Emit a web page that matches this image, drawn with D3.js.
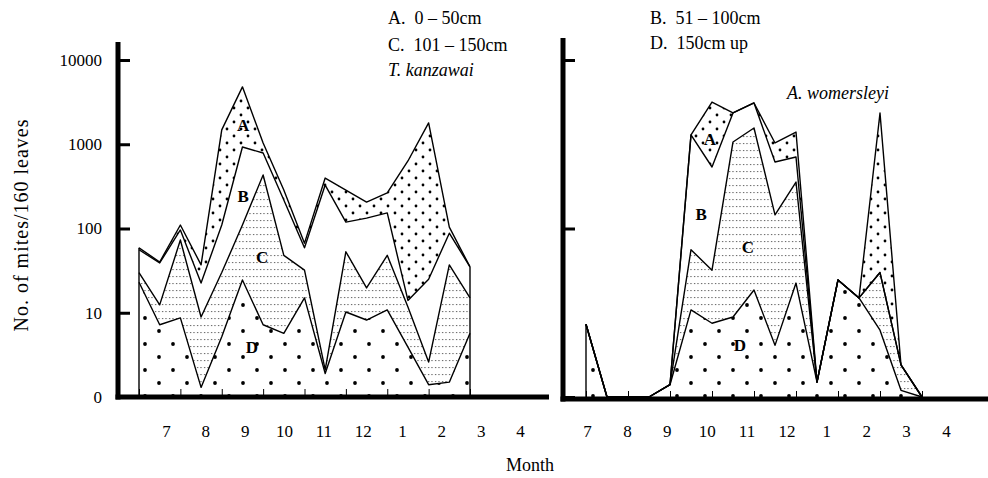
<!DOCTYPE html>
<html>
<head>
<meta charset="utf-8">
<script src="https://cdn.jsdelivr.net/npm/d3@7"></script>
<style>
  body { margin: 0; background: #fff; }
  svg { display: block; }
  svg text { font-family: "Liberation Serif", "Times New Roman", serif; fill: #000; }
</style>
</head>
<body>
<svg id="chart" width="988" height="478"></svg>
<script>
// month tick labels (July .. April)
const months = ["7", "8", "9", "10", "11", "12", "1", "2", "3", "4"];
const yTicks = [1, 10, 100, 1000, 10000];

// T. kanzawai: upper edge of each zone, one value per half-month sample (0 plotted as 1)
const tkA = [59, 40, 110, 37, 1480, 4800, 1035, 286, 67, 397, 286, 206, 264, 633, 1790, 104, 35];
const tkB = [56, 39, 96, 22.5, 110, 928, 787, 218, 59, 328, 119, 133, 153, 14, 25, 88, 35];
const tkC = [30, 12.4, 73, 8.9, 30, 110, 432, 48, 32, 2.1, 53, 19.7, 48, 11.7, 2.6, 37, 15];
const tkD = [23, 7.2, 8.7, 1.3, 5.2, 24.5, 7.2, 5.7, 15, 1.9, 10.2, 8.2, 10.8, 3.9, 1.4, 1.5, 5.7];

// A. womersleyi
const awA = [7.3, 1, 1, 1, 1.4, 1290, 3170, 2350, 3090, 1035, 1397, 1.5, 24.5, 15, 2350, 2.4, 1];
const awB = [7.3, 1, 1, 1, 1.4, 1290, 537, 2350, 3090, 615, 706, 1.5, 24.5, 15, 30, 2.4, 1];
const awC = [7.3, 1, 1, 1, 1.4, 56, 32, 1064, 1560, 145, 356, 1.5, 24.5, 15, 30, 2.4, 1];
const awD = [7.3, 1, 1, 1, 1.4, 10.8, 7.5, 8.9, 18.6, 4.1, 22.5, 1.5, 24.5, 15, 6.2, 1.2, 1];

const svg = d3.select("#chart");
const serif = "Liberation Serif, Times New Roman, serif";

// fill patterns
const defs = svg.append("defs");
const pD = defs.append("pattern").attr("id", "dotsD").attr("patternUnits", "userSpaceOnUse")
  .attr("width", 28).attr("height", 26);
pD.append("circle").attr("cx", 5).attr("cy", 6).attr("r", 1.9);
pD.append("circle").attr("cx", 19).attr("cy", 19).attr("r", 1.9);

const pA = defs.append("pattern").attr("id", "dotsA").attr("patternUnits", "userSpaceOnUse")
  .attr("width", 14).attr("height", 14);
pA.append("circle").attr("cx", 3).attr("cy", 3).attr("r", 1.4);
pA.append("circle").attr("cx", 10).attr("cy", 10).attr("r", 1.4);

const pC = defs.append("pattern").attr("id", "stipple").attr("patternUnits", "userSpaceOnUse")
  .attr("width", 3.5).attr("height", 7);
pC.append("rect").attr("x", 1).attr("y", 3).attr("width", 1.1).attr("height", 1.1).attr("fill", "#444");

const y = d3.scaleLog().domain([1, 10000]).range([397, 60]);

function drawPanel(o) {
  const g = svg.append("g");
  const x = d3.scaleLinear().domain([0, o.A.length - 1]).range(o.xr);
  const idx = d3.range(o.A.length);

  const zones = [
    {lo: o.B, hi: o.A, fill: "url(#dotsA)"},
    {lo: o.C, hi: o.B, fill: "#fff"},
    {lo: o.D, hi: o.C, fill: "url(#stipple)"},
    {lo: idx.map(() => 1), hi: o.D, fill: "url(#dotsD)"}
  ];
  zones.forEach(z => {
    g.append("path")
      .datum(idx)
      .attr("d", d3.area().x(i => x(i)).y0(i => y(z.lo[i])).y1(i => y(z.hi[i])))
      .attr("fill", z.fill);
  });

  [o.A, o.B, o.C, o.D].forEach(s => {
    g.append("path")
      .datum(idx)
      .attr("d", d3.line().x(i => x(i)).y(i => y(s[i])))
      .attr("fill", "none").attr("stroke", "#000").attr("stroke-width", 1.4)
      .attr("stroke-linejoin", "round");
  });

  // closing edges of the outline
  [0, o.A.length - 1].forEach(i => {
    if (o.A[i] > 1) {
      g.append("line").attr("x1", x(i)).attr("x2", x(i)).attr("y1", y(o.A[i])).attr("y2", y(1))
        .attr("stroke", "#000").attr("stroke-width", 1.4);
    }
  });

  // small marks on the baseline
  g.append("g")
    .attr("transform", `translate(0,${o.base - 2})`)
    .call(d3.axisTop(x).tickValues(d3.range(0, o.A.length, 2)).tickSize(6).tickFormat(""))
    .call(a => a.select(".domain").remove())
    .selectAll("line").attr("stroke-width", 1);

  // thick axes
  g.append("line").attr("x1", o.ax).attr("x2", o.ax).attr("y1", o.top).attr("y2", o.base + 2.5)
    .attr("stroke", "#000").attr("stroke-width", 5);
  g.append("line").attr("x1", o.ax - 2.5).attr("x2", o.xEnd).attr("y1", o.base).attr("y2", o.base)
    .attr("stroke", "#000").attr("stroke-width", 5);

  const yAxis = g.append("g")
    .attr("transform", `translate(${o.ax},0)`)
    .call(d3.axisLeft(y).tickValues(o.ticks).tickSize(-12).tickPadding(16)
      .tickFormat(d => o.labels ? (d === 1 ? "0" : d3.format("d")(d)) : ""));
  yAxis.attr("font-family", serif);
  yAxis.select(".domain").remove();
  yAxis.selectAll("line").attr("stroke-width", 3);
  yAxis.selectAll("text").attr("font-size", 17).attr("fill", "#000");

  // month labels
  const mx = d3.scalePoint().domain(months).range(o.mr);
  const mAxis = g.append("g")
    .attr("transform", "translate(0,425)")
    .call(d3.axisBottom(mx).tickSize(0).tickPadding(0));
  mAxis.attr("font-family", serif);
  mAxis.select(".domain").remove();
  mAxis.selectAll("text").attr("font-size", 17).attr("fill", "#000");

  // zone letters
  o.zl.forEach(l => {
    g.append("text").attr("x", x(l.k)).attr("y", y(l.v))
      .attr("text-anchor", "middle").attr("dominant-baseline", "central")
      .attr("font-size", 17).attr("font-weight", "bold").text(l.t);
  });
}

drawPanel({
  A: tkA, B: tkB, C: tkC, D: tkD,
  xr: [139, 470], mr: [166, 520], ax: 118, top: 42, base: 397, xEnd: 549,
  ticks: yTicks, labels: true,
  zl: [{t: "A", k: 5.03, v: 1690}, {t: "B", k: 5.03, v: 237}, {t: "C", k: 5.95, v: 45}, {t: "D", k: 5.46, v: 3.9}]
});

drawPanel({
  A: awA, B: awB, C: awC, D: awD,
  xr: [586, 922], mr: [587, 946], ax: 563, top: 38, base: 399, xEnd: 988,
  ticks: [1, 100, 10000], labels: false,
  zl: [{t: "A", k: 5.9, v: 1150}, {t: "B", k: 5.48, v: 145}, {t: "C", k: 7.71, v: 60}, {t: "D", k: 7.33, v: 4.1}]
});

// legend texts
const legend = [
  {x: 388, y: 24, t: "A.  0 – 50cm"},
  {x: 388, y: 51, t: "C.  101 – 150cm"},
  {x: 650, y: 24, t: "B.  51 – 100cm"},
  {x: 650, y: 49, t: "D.  150cm up"}
];
legend.forEach(l => {
  svg.append("text").attr("x", l.x).attr("y", l.y).attr("font-size", 18)
    .style("white-space", "pre").text(l.t);
});
svg.append("text").attr("x", 388).attr("y", 76).attr("font-size", 18)
  .attr("font-style", "italic").text("T. kanzawai");
svg.append("text").attr("x", 787).attr("y", 99).attr("font-size", 18)
  .attr("font-style", "italic").text("A. womersleyi");

// axis titles
svg.append("text").attr("x", 530).attr("y", 471).attr("text-anchor", "middle")
  .attr("font-size", 18).text("Month");
svg.append("text").attr("transform", "translate(28,225) rotate(-90)")
  .attr("text-anchor", "middle").attr("font-size", 20).attr("letter-spacing", 1)
  .text("No. of mites/160 leaves");
</script>
</body>
</html>
